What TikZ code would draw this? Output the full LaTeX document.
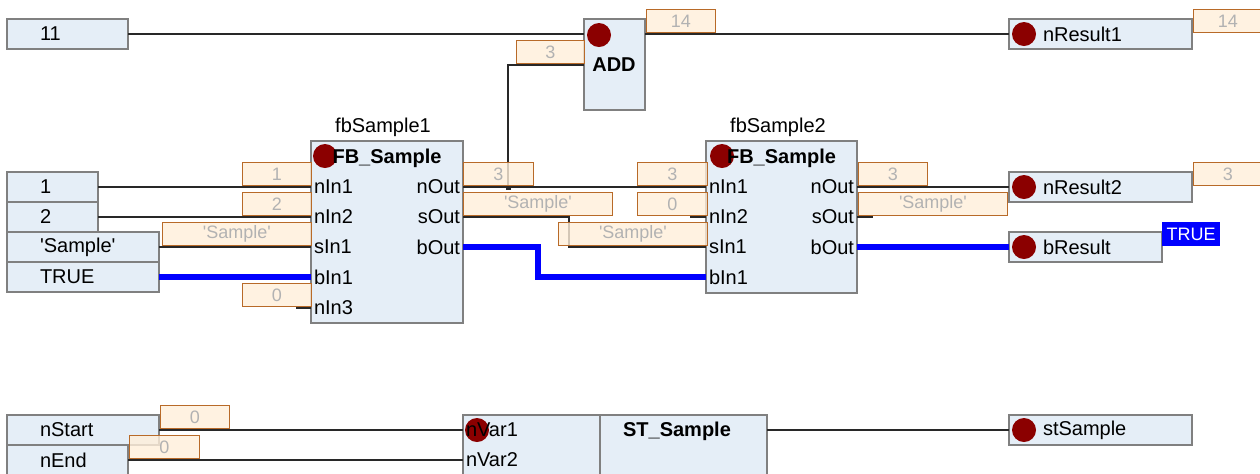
\documentclass[tikz,border=0pt]{standalone}
\usepackage{fontspec}
\setmainfont{Liberation Sans}
\usetikzlibrary{calc,positioning}
\definecolor{boxfill}{RGB}{229,238,247}
\definecolor{boxline}{RGB}{128,128,128}
\definecolor{valfill}{RGB}{255,239,218}
\definecolor{valline}{RGB}{184,106,40}
\definecolor{valtext}{RGB}{178,178,178}
\definecolor{dotred}{RGB}{139,0,0}
\definecolor{wirecol}{RGB}{40,40,40}
\definecolor{sigblue}{RGB}{0,0,255}
\newcommand{\pinfont}{\fontsize{20}{24}\selectfont}
\newcommand{\valfont}{\fontsize{18}{21}\selectfont}
\newcommand{\sq}{\textquotesingle}

\begin{document}
\begin{tikzpicture}[x=1pt,y=-1pt,scale=0.5,transform shape,
  box/.style={draw=boxline,fill=boxfill,line width=0.7pt,inner sep=0pt,outer sep=0pt},
  var/.style={box,minimum height=30,inner xsep=33,text width=#1,align=left,font=\pinfont,anchor=north west},
  res/.style={var=#1,inner xsep=34},
  port/.style={inner xsep=3,inner ysep=0,outer sep=0pt,font=\pinfont},
  fbhead/.style={font=\pinfont\bfseries},
  val/.style={draw=valline,fill=valfill,fill opacity=0.8,text opacity=1,text=valtext,line width=0.9pt,
    inner sep=0pt,minimum width=#1,minimum height=23,font=\valfont,anchor=north west},
  val/.default=69,
  trueflag/.style={fill=sigblue,text=white,inner sep=0pt,minimum width=58,minimum height=24,font=\valfont,anchor=north west},
  wire/.style={draw=wirecol,line width=0.7pt},
  bwire/.style={draw=sigblue,line width=3pt},
  rdot/.style={fill=dotred}]
  \useasboundingbox (0,0) rectangle (1260,473);
  \clip (0,0) rectangle (1260,473);

  % ADD network
  \node[var=55] (v11) at (7,19) {11};
  \node[box,minimum width=61,minimum height=91,anchor=north west] (add) at (584,19) {};
  \fill[rdot] (599,35) circle (12);
  \node[fbhead] (addt) at (614,65) {ADD};
  \coordinate (add-in1) at (584,34);
  \coordinate (add-in2) at (584,65);
  \coordinate (add-out) at (645,34);
  \node[res=115] (r1) at (1009,19) {nResult1};
  \fill[rdot] ($(r1.west)+(15,0)$) circle (12);

  % inputs of fbSample1
  \node[var=25] (v1) at (7,172) {1};
  \node[var=25] (v2) at (7,202) {2};
  \node[var=86] (vs) at (7,232) {\sq Sample\sq};
  \node[var=86] (vt) at (7,262) {TRUE};

  % fbSample1
  \node[box,minimum width=152,minimum height=182,anchor=north west] (f1) at (311,141) {};
  \node[port] (f1n) at (383,127) {fbSample1};
  \fill[rdot] (f1.north west) ++(14,15) circle (12);
  \node[fbhead] (f1t) at ($(f1.north)+(0,17)$) {FB\_Sample};
  \foreach \p/\y in {nIn1/187,nIn2/217,sIn1/247,bIn1/277,nIn3/308}
    \node[port,anchor=west] (f1-\p) at (311,\y) {\p};
  \foreach \p/\y in {nOut/187,sOut/217,bOut/247}
    \node[port,anchor=east] (f1-\p) at (463,\y) {\p};

  % fbSample2
  \node[box,minimum width=151,minimum height=152,anchor=north west] (f2) at (706,141) {};
  \node[port] (f2n) at (778,127) {fbSample2};
  \fill[rdot] (f2.north west) ++(16,15) circle (12);
  \node[fbhead] (f2t) at ($(f2.north)+(0,17)$) {FB\_Sample};
  \foreach \p/\y in {nIn1/187,nIn2/217,sIn1/247,bIn1/277}
    \node[port,anchor=west] (f2-\p) at (706,\y) {\p};
  \foreach \p/\y in {nOut/187,sOut/217,bOut/247}
    \node[port,anchor=east] (f2-\p) at (857,\y) {\p};

  \node[res=115] (r2) at (1009,172) {nResult2};
  \fill[rdot] ($(r2.west)+(15,0)$) circle (12);
  \node[res=85] (rb) at (1009,232) {bResult};
  \fill[rdot] ($(rb.west)+(15,0)$) circle (12);

  % ST_Sample
  \node[var=86] (vS) at (7,415) {nStart};
  \node[var=55] (vE) at (7,445) {nEnd};
  \node[box,minimum width=304,minimum height=80,anchor=north west] (st) at (463,415) {};
  \draw[draw=boxline,line width=0.7pt] (st.north west) ++(137,0) -- ++(0,80);
  \fill[rdot] (477,430) circle (12);
  \node[port,anchor=west] (st-nVar1) at (463,430) {nVar1};
  \node[port,anchor=west] (st-nVar2) at (463,460) {nVar2};
  \node[fbhead] (stt) at (677,431) {ST\_Sample};
  \coordinate (st-out) at (767,430);
  \node[res=115] (rS) at (1009,415) {stSample};
  \fill[rdot] ($(rS.west)+(15,0)$) circle (12);

  % wires
  \coordinate (j1) at (508,187);
  \coordinate (f1-nIn3-end) at (296,308);
  \coordinate (f2-nIn2-end) at (690,217);
  \coordinate (f2-sOut-end) at (873,217);
  \draw[wire] (v11.east) -- (add-in1);
  \draw[wire] (add-out) -- (add-out -| r1.west);
  \draw[wire] (v1.east) -- (f1-nIn1.west);
  \draw[wire] (v2.east) -- (f1-nIn2.west);
  \draw[wire] (vs.east) -- (f1-sIn1.west);
  \draw[bwire] (vt.east) -- (f1-bIn1.west);
  \draw[wire] (f1-nIn3.west) -- (f1-nIn3-end);
  \draw[wire] (f1-nOut.east) -- (f2-nIn1.west);
  \draw[wire] (add-in2) -| (j1);
  \fill[wirecol] (j1) ++(-2.5,-2.5) rectangle ++(5,5);
  \draw[wire] (f1-sOut.east) -- ++(106,0) |- (f2-sIn1.west);
  \draw[bwire] (f1-bOut.east) -- ++(75,0) |- (f2-bIn1.west);
  \draw[wire] (f2-nIn2.west) -- (f2-nIn2-end);
  \draw[wire] (f2-nOut.east) -- (f2-nOut.east -| r2.west);
  \draw[wire] (f2-sOut.east) -- (f2-sOut-end);
  \draw[bwire] (f2-bOut.east) -- (f2-bOut.east -| rb.west);
  \draw[wire] (vS.east) -- (st-nVar1.west);
  \draw[wire] (vE.east) -- (st-nVar2.west);
  \draw[wire] (st-out) -- (st-out -| rS.west);

  % online values
  \foreach \x/\y/\w/\lbl [count=\i] in {646/9/69/14, 516/40/68/3, 1193/9/69/14,
      242/162/69/1, 242/192/69/2, 162/222/149/{\sq Sample\sq}, 242/283/69/0,
      463/162/70/3, 463/192/149/{\sq Sample\sq}, 637/162/70/3, 637/192/70/0,
      558/222/149/{\sq Sample\sq}, 858/162/69/3, 858/192/149/{\sq Sample\sq},
      1193/162/69/3, 160/405/69/0, 129/435/70/0}
    \node[val=\w] (q\i) at (\x,\y) {\lbl};
  \node[trueflag] (qb) at (1162,222) {TRUE};
\end{tikzpicture}
\end{document}
